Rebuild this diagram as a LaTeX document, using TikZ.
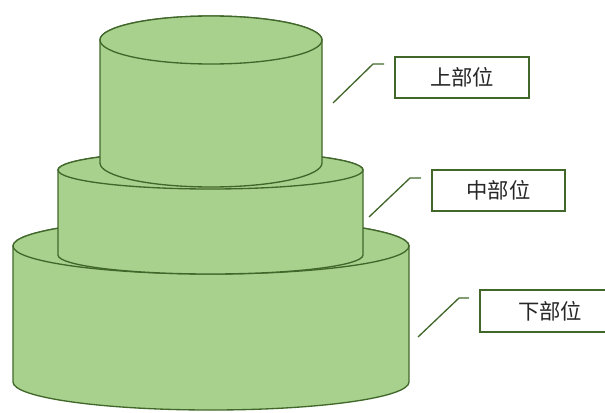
\documentclass[tikz,border=0pt]{standalone}
\usepackage{fontspec}
\newfontfamily\cjk{Noto Sans CJK SC}
\definecolor{cakefill}{HTML}{A9D18E}
\definecolor{cakeline}{HTML}{41682A}
\definecolor{labeltext}{HTML}{262626}
\begin{document}
\begin{tikzpicture}[x=0.75pt,y=0.75pt,
  tier/.style={fill=cakefill,draw=cakeline,line width=1pt,line join=round},
  labelbox/.style={draw=cakeline,fill=white,line width=1pt,inner sep=0pt,
    minimum height=30.75pt,font=\cjk\fontsize{16}{19}\selectfont,text=labeltext},
  leader/.style={draw=cakeline,line width=1pt}]
\useasboundingbox (0,0) rectangle (605,412);

% bottom tier
\path[tier] (13,166) -- (13,30)
  arc[start angle=180,end angle=360,x radius=198,y radius=28]
  -- (409,166)
  arc[start angle=0,end angle=180,x radius=198,y radius=28] -- cycle;
\path[tier] (211,166) ellipse[x radius=198,y radius=28];

% middle tier
\path[tier] (58,242) -- (58,157)
  arc[start angle=180,end angle=360,x radius=152.5,y radius=19]
  -- (363,242)
  arc[start angle=0,end angle=180,x radius=152.5,y radius=19] -- cycle;
\path[tier] (210.5,242) ellipse[x radius=152.5,y radius=19];

% top tier
\path[tier] (100,372) -- (100,249)
  arc[start angle=180,end angle=360,x radius=111,y radius=24]
  -- (322,372)
  arc[start angle=0,end angle=180,x radius=111,y radius=24] -- cycle;
\path[tier] (211,372) ellipse[x radius=111,y radius=24];

% labels
\node[labelbox,minimum width=100.5pt] (upper) at (462,334.5) {上部位};
\node[labelbox,minimum width=99.75pt] (middle) at (498.5,221.5) {中部位};
\node[labelbox,minimum width=105pt,minimum height=31.5pt] (lower) at (550,101) {下部位};

% leader lines
\coordinate (u0) at (333,309); \coordinate (u1) at (373,348); \coordinate (u2) at (384,348);
\coordinate (m0) at (369,195); \coordinate (m1) at (410,234); \coordinate (m2) at (421,234);
\coordinate (l0) at (418,75);  \coordinate (l1) at (459,114); \coordinate (l2) at (469,114);
\draw[leader] (u0) -- (u1) -- (u2);
\draw[leader] (m0) -- (m1) -- (m2);
\draw[leader] (l0) -- (l1) -- (l2);
\end{tikzpicture}
\end{document}
